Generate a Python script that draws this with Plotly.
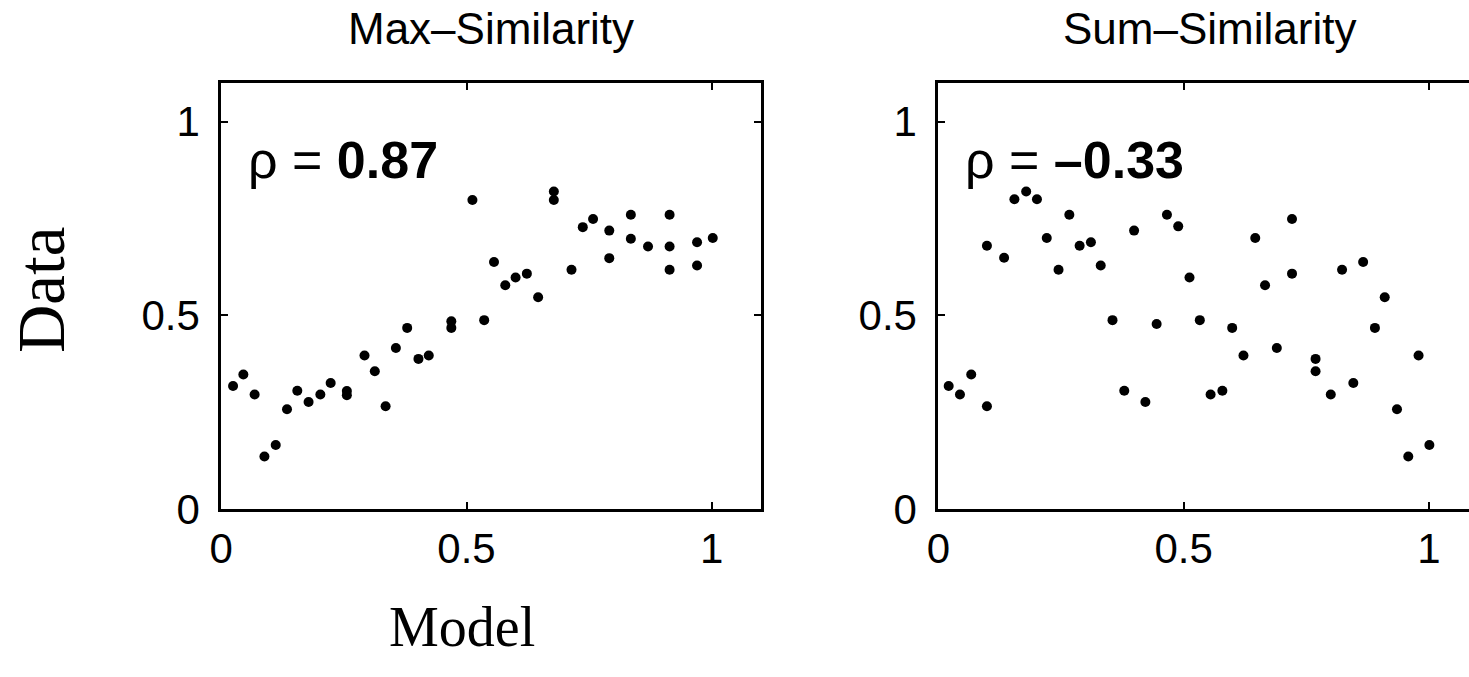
import plotly.graph_objects as go

# ---- data ----
max_model = [0.024, 0.045, 0.068, 0.088, 0.111, 0.134, 0.155, 0.178, 0.202, 0.223, 0.256, 0.256,
             0.292, 0.313, 0.335, 0.356, 0.379, 0.402, 0.423, 0.469, 0.469, 0.512, 0.536, 0.556,
             0.579, 0.600, 0.623, 0.646, 0.678, 0.678, 0.714, 0.737, 0.758, 0.791, 0.791, 0.835,
             0.835, 0.870, 0.914, 0.914, 0.914, 0.970, 0.970, 1.002]
max_data = [0.318, 0.348, 0.296, 0.136, 0.166, 0.258, 0.306, 0.277, 0.296, 0.326, 0.305, 0.294,
            0.397, 0.356, 0.266, 0.416, 0.468, 0.388, 0.397, 0.485, 0.468, 0.798, 0.488, 0.638,
            0.578, 0.598, 0.608, 0.547, 0.820, 0.798, 0.618, 0.728, 0.749, 0.719, 0.648, 0.760,
            0.698, 0.678, 0.760, 0.678, 0.618, 0.689, 0.629, 0.700]

sum_model = [0.021, 0.044, 0.067, 0.099, 0.099, 0.134, 0.155, 0.179, 0.201, 0.221, 0.245, 0.267,
             0.288, 0.311, 0.331, 0.355, 0.379, 0.399, 0.422, 0.445, 0.466, 0.489, 0.512, 0.533,
             0.555, 0.579, 0.599, 0.622, 0.646, 0.666, 0.690, 0.721, 0.721, 0.769, 0.769, 0.800,
             0.823, 0.846, 0.866, 0.890, 0.910, 0.935, 0.958, 0.979, 1.001]
sum_data = [0.318, 0.296, 0.348, 0.680, 0.266, 0.649, 0.800, 0.820, 0.800, 0.700, 0.618, 0.760,
            0.680, 0.689, 0.629, 0.488, 0.306, 0.719, 0.277, 0.478, 0.760, 0.730, 0.598, 0.488,
            0.296, 0.306, 0.468, 0.397, 0.700, 0.578, 0.416, 0.749, 0.608, 0.388, 0.356, 0.296,
            0.618, 0.326, 0.638, 0.468, 0.547, 0.258, 0.136, 0.397, 0.166]

titles = ["Max\u2013Similarity", "Sum\u2013Similarity"]
rho_values = ["0.87", "\u20130.33"]
tick_vals = [0, 0.5, 1]
tick_text = ["0", "0.5", "1"]

W, H = 1469, 677
SANS = "Liberation Sans, Arial, Helvetica, sans-serif"
SERIF = "Liberation Serif, Times New Roman, serif"

def px_x(p):
    return p / W

def px_y(p):
    return 1 - p / H

fig = go.Figure()
fig.add_trace(go.Scatter(x=max_model, y=max_data, mode="markers", xaxis="x", yaxis="y",
                         marker=dict(color="black", size=10), showlegend=False))
fig.add_trace(go.Scatter(x=sum_model, y=sum_data, mode="markers", xaxis="x2", yaxis="y2",
                         marker=dict(color="black", size=10), showlegend=False))

axis_common = dict(showgrid=False, zeroline=False, showline=True, linecolor="black", linewidth=3,
                   ticks="inside", ticklen=7, tickwidth=2, tickcolor="black",
                   tickvals=tick_vals, ticktext=tick_text,
                   tickfont=dict(family=SANS, size=42, color="black"))

LEFT1, RIGHT1 = 211, 755
LEFT2 = 934
TOP, BOTTOM = 86, 528
unit = (RIGHT1 - LEFT1) / 1.1

x_dom1 = [px_x(LEFT1), px_x(RIGHT1)]
x_dom2 = [px_x(LEFT2), 1.0]
y_dom = [px_y(BOTTOM), px_y(TOP)]
x2_max = (W - LEFT2) / unit

fig.update_layout(
    width=W, height=H, margin=dict(l=0, r=0, t=0, b=0),
    paper_bgcolor="white", plot_bgcolor="white",
    xaxis=dict(domain=x_dom1, range=[0, 1.1], anchor="y", mirror="ticks",
               ticklabelstandoff=0, **axis_common),
    yaxis=dict(domain=y_dom, range=[0, 1.1], anchor="x", mirror="ticks",
               ticklabelstandoff=10, **axis_common),
    xaxis2=dict(domain=x_dom2, range=[0, x2_max], anchor="y2", mirror="ticks",
                ticklabelstandoff=0, **axis_common),
    yaxis2=dict(domain=y_dom, range=[0, 1.1], anchor="x2", mirror=False,
                ticklabelstandoff=10, **axis_common),
)

annotations = []
centers = [483, 1207]
for title, cx in zip(titles, centers):
    annotations.append(dict(text=title, xref="paper", yref="paper", x=px_x(cx), y=px_y(30),
                            xanchor="center", yanchor="middle", showarrow=False,
                            font=dict(family=SANS, size=44, color="black")))
for rho, (xr, yr) in zip(rho_values, [("x", "y"), ("x2", "y2")]):
    annotations.append(dict(text="\u03c1 = <b>" + rho + "</b>", xref=xr, yref=yr, x=0.05, y=0.9,
                            xanchor="left", yanchor="middle", showarrow=False,
                            font=dict(family=SANS, size=52, color="black")))
annotations.append(dict(text="Data", xref="paper", yref="paper", x=px_x(30), y=px_y(301),
                        xanchor="center", yanchor="middle", textangle=-90, showarrow=False,
                        font=dict(family=SERIF, size=67, color="black")))
annotations.append(dict(text="Model", xref="paper", yref="paper", x=px_x(454), y=px_y(650),
                        xanchor="center", yanchor="middle", showarrow=False,
                        font=dict(family=SERIF, size=56, color="black")))
fig.update_layout(annotations=annotations)

fig.write_html("out.html", config={"displayModeBar": False},
               post_script="document.body.style.margin='0';")
